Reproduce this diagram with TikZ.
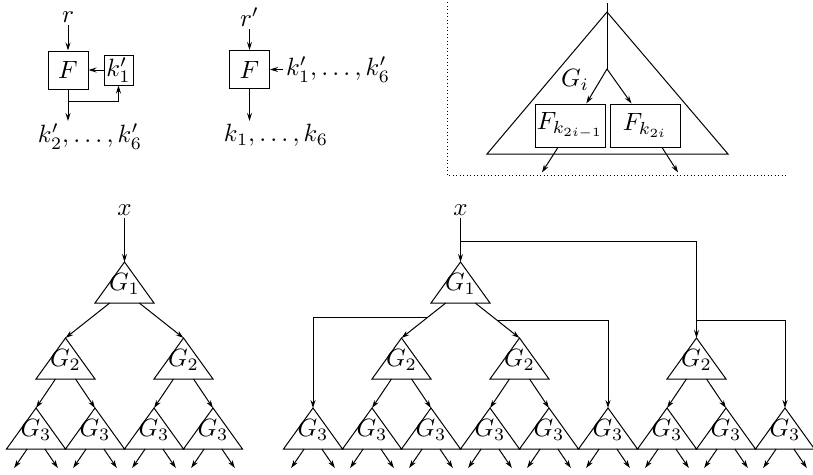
\documentclass[tikz,border=0pt]{standalone}
\usetikzlibrary{calc,arrows.meta}

% triangle block: name, apex, label
\newcommand{\gtri}[3]{%
  \coordinate (#1) at (#2);
  \draw (#1) -- ++(-29.5,41) coordinate (#1-l) -- ++(59,0) coordinate (#1-r) -- cycle;
  \node [glabel] (#1-t) at ($(#1)+(0,22)$) {$#3$};
}

\begin{document}
\begin{tikzpicture}[x=0.4pt, y=-0.4pt, >={Stealth[length=3.2pt,width=2pt]},
    box/.style={draw, inner sep=0.5pt},
    lbl/.style={inner sep=1pt},
    glabel/.style={inner sep=0pt}]
\useasboundingbox (0,0) rectangle (813,474);

% Round keys, first way
\node [lbl] (r) at (68,17) {$r$};
\node [box, minimum width=16pt, minimum height=15.2pt] (F1) at (68,70) {$F$};
\node [box, minimum width=11.6pt, minimum height=12pt] (k1) at (118.5,70) {$k'_1$};
\node [lbl, anchor=north] (out1) at (90,121) {$k'_2,\ldots,k'_6$};
\draw [->] (r) -- (F1);
\draw [->] (k1) -- (F1);
\draw [->] (F1.south) -- (F1.south |- out1.north);
\coordinate (fb) at (68,101);
\draw [->] (fb) -| (k1.south);

% Round keys, second way
\node [lbl] (r2) at (249.5,17) {$r'$};
\node [box, minimum width=16pt, minimum height=15.2pt] (F2) at (249.5,69.5) {$F$};
\node [lbl, anchor=west] (kin) at (283,69.5) {$k'_1,\ldots,k'_6$};
\node [lbl, anchor=north] (out2) at (276,121) {$k_1,\ldots,k_6$};
\draw [->] (r2) -- (F2);
\draw [->] (kin) -- (F2);
\draw [->] (F2.south) -- (F2.south |- out2.north);

% Inside G_i
\draw [densely dotted] (447,2) -- (447,175) -- (787,175);
\coordinate (gtop) at (607,12);
\draw (gtop) -- (487,154) -- (728,154) -- cycle;
\node [glabel] (gi) at (575,80) {$G_i$};
\node [box, minimum width=28pt, minimum height=17.2pt] (Fa) at (570,125.5) {$F_{k_{2i-1}}$};
\node [box, minimum width=28pt, minimum height=17.2pt] (Fb) at (645,125.5) {$F_{k_{2i}}$};
\coordinate (gin) at (607,3);
\coordinate (gsplit) at (607,69);
\draw (gin) -- (gsplit);
\draw [->] (gsplit) -- ($(Fa.north west)!0.73!(Fa.north east)$);
\draw [->] (gsplit) -- ($(Fb.north west)!0.31!(Fb.north east)$);
\draw [->] ($(Fa.south west)!0.33!(Fa.south east)$) -- ++(-16,25);
\draw [->] ($(Fb.south west)!0.74!(Fb.south east)$) -- ++(16,25);

% Left tree
\node [lbl] (xa) at (124.5,210) {$x$};
\gtri{a1}{124.5,262}{G_1}
\gtri{a21}{65.5,338}{G_2}
\gtri{a22}{183.5,338}{G_2}
\foreach \p [count=\i] in {36,95,154,213} {
  \gtri{a3\i}{\p,408}{G_3}
  \draw [->] ($(a3\i-l)!0.35!(a3\i-r)$) -- ++(-13,19);
  \draw [->] ($(a3\i-l)!0.65!(a3\i-r)$) -- ++(13,19);
}
\draw [->] (xa) -- (a1);
\draw [->] ($(a1-l)!0.25!(a1-r)$) -- (a21);
\draw [->] ($(a1-l)!0.75!(a1-r)$) -- (a22);
\draw [->] ($(a21-l)!0.33!(a21-r)$) -- (a31);
\draw [->] ($(a21-l)!0.67!(a21-r)$) -- (a32);
\draw [->] ($(a22-l)!0.33!(a22-r)$) -- (a33);
\draw [->] ($(a22-l)!0.67!(a22-r)$) -- (a34);

% Right tree
\node [lbl] (xb) at (460.5,210) {$x$};
\gtri{b1}{460.5,262}{G_1}
\gtri{b21}{401.5,338}{G_2}
\gtri{b22}{519.5,338}{G_2}
\gtri{b23}{696.5,338}{G_2}
\foreach \p [count=\i] in {313,372,431,490,549,608,667,726,785} {
  \gtri{b3\i}{\p,408}{G_3}
  \draw [->] ($(b3\i-l)!0.35!(b3\i-r)$) -- ++(-13,19);
  \draw [->] ($(b3\i-l)!0.65!(b3\i-r)$) -- ++(13,19);
}
\draw [->] (xb) -- (b1);
\coordinate (bx) at (460.5,241);
\draw [->] (bx) -| (b23);
\coordinate (by) at (696.5,320);
\draw [->] (by) -| (b39);
\draw [->] ($(b1-l)!0.25!(b1-r)$) -- coordinate [pos=0.4] (bl) (b21);
\draw [->] ($(b1-l)!0.75!(b1-r)$) -- coordinate [pos=0.5] (br) (b22);
\draw [->] (bl) -| (b31);
\draw [->] (br) -| (b36);
\draw [->] ($(b21-l)!0.33!(b21-r)$) -- (b32);
\draw [->] ($(b21-l)!0.67!(b21-r)$) -- (b33);
\draw [->] ($(b22-l)!0.33!(b22-r)$) -- (b34);
\draw [->] ($(b22-l)!0.67!(b22-r)$) -- (b35);
\draw [->] ($(b23-l)!0.33!(b23-r)$) -- (b37);
\draw [->] ($(b23-l)!0.67!(b23-r)$) -- (b38);
\end{tikzpicture}
\end{document}
